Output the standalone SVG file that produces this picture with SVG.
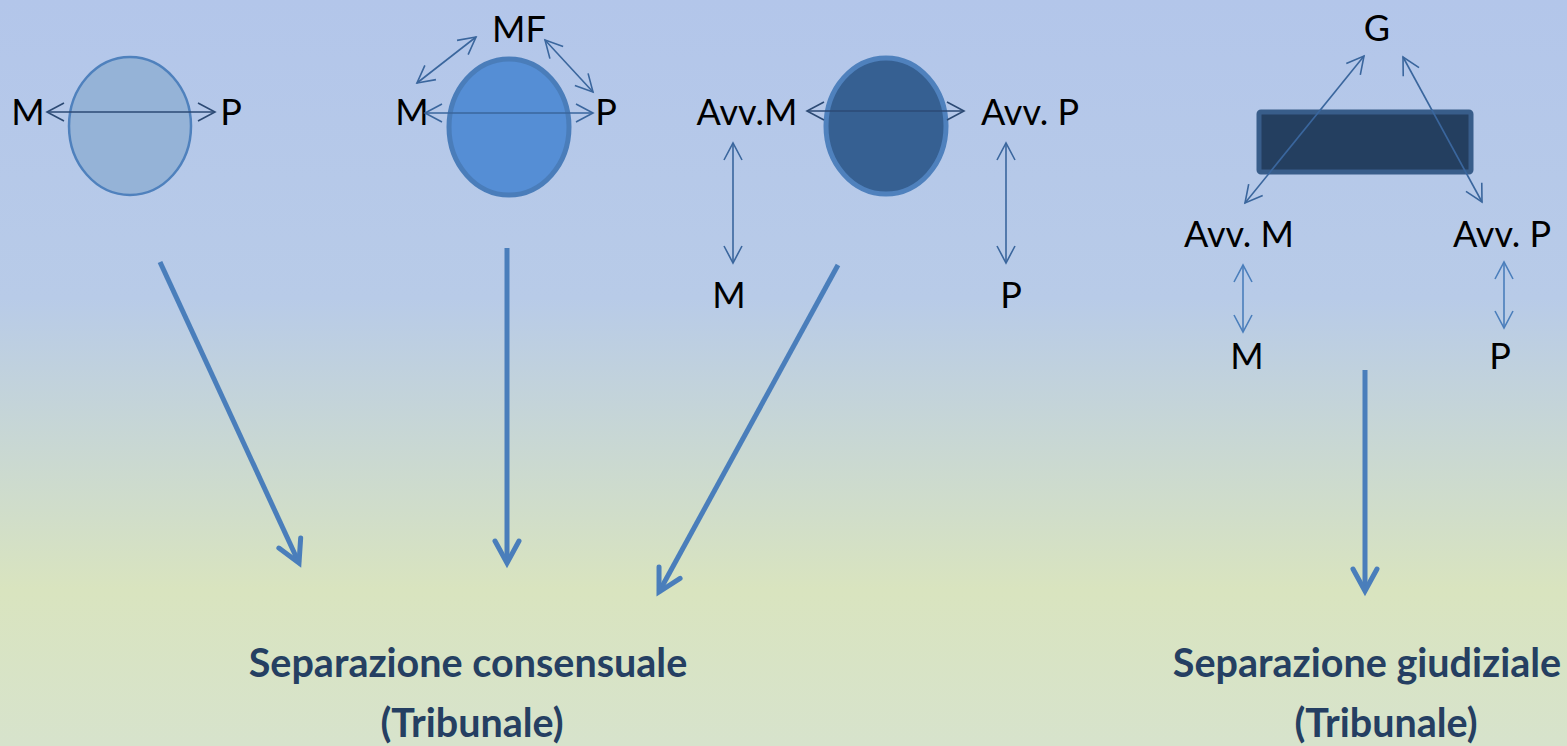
<svg xmlns="http://www.w3.org/2000/svg" width="1567" height="746" viewBox="0 0 1567 746">
  <defs>
    <linearGradient id="bg" x1="0" y1="0" x2="0" y2="1">
      <stop offset="0" stop-color="#b3c6ea"/>
      <stop offset="0.4" stop-color="#b8cbe8"/>
      <stop offset="0.79" stop-color="#d9e4bf"/>
      <stop offset="1" stop-color="#d7e3cc"/>
    </linearGradient>
    <marker id="hd" markerUnits="userSpaceOnUse" markerWidth="40" markerHeight="40" viewBox="-20 -20 40 40" refX="0" refY="0" orient="auto-start-reverse">
      <path d="M-17,-9 L0,0 L-17,9" fill="none" stroke="#2c4a74" stroke-width="1.6"/>
    </marker>
    <marker id="hm" markerUnits="userSpaceOnUse" markerWidth="40" markerHeight="40" viewBox="-20 -20 40 40" refX="0" refY="0" orient="auto-start-reverse">
      <path d="M-17,-9 L0,0 L-17,9" fill="none" stroke="#3a669d" stroke-width="1.6"/>
    </marker>
    <marker id="hl" markerUnits="userSpaceOnUse" markerWidth="40" markerHeight="40" viewBox="-20 -20 40 40" refX="0" refY="0" orient="auto-start-reverse">
      <path d="M-17,-9 L0,0 L-17,9" fill="none" stroke="#4a7ebb" stroke-width="1.6"/>
    </marker>
    <marker id="big" markerUnits="userSpaceOnUse" markerWidth="60" markerHeight="60" viewBox="-30 -30 60 60" refX="0" refY="0" orient="auto">
      <path d="M-22,-12 L0,0 L-22,12" fill="none" stroke="#4a7ebb" stroke-width="5" stroke-linecap="round" stroke-linejoin="miter"/>
    </marker>
  </defs>
  <style>
    .lbl { font-family: Lato, "Liberation Sans", sans-serif; font-size: 36px; fill: #000; text-anchor: middle; }
    .ttl { font-family: Lato, "Liberation Sans", sans-serif; font-size: 39.5px; font-weight: bold; fill: #253f62; text-anchor: middle; }
    .dark { stroke: #2c4a74; stroke-width: 1.6; fill: none; marker-start: url(#hd); marker-end: url(#hd); }
    .mid { stroke: #3a669d; stroke-width: 1.6; fill: none; marker-start: url(#hm); marker-end: url(#hm); }
    .light { stroke: #4a7ebb; stroke-width: 1.6; fill: none; marker-start: url(#hl); marker-end: url(#hl); }
    .bigarrow { stroke: #4a7ebb; stroke-width: 5; fill: none; marker-end: url(#big); }
  </style>
  <rect x="0" y="0" width="1567" height="746" fill="url(#bg)"/>

  <g id="node-ellipse1">
    <ellipse cx="130" cy="126" rx="61" ry="69" fill="#95b3d7" stroke="#4f81bd" stroke-width="2.5"/>
  </g>
  <g id="node-ellipse2">
    <ellipse cx="509" cy="127" rx="60" ry="68" fill="#558ed5" stroke="#4a7dba" stroke-width="5"/>
  </g>
  <g id="node-ellipse3">
    <ellipse cx="886" cy="126" rx="60" ry="68" fill="#366092" stroke="#4f81bd" stroke-width="5"/>
  </g>
  <g id="node-rect">
    <rect x="1259" y="112" width="212" height="60" rx="2" fill="#243f60" stroke="#385d8a" stroke-width="5"/>
  </g>

  <g id="node-g1-M"><text class="lbl" x="28" y="125">M</text></g>
  <g id="node-g1-P"><text class="lbl" x="231" y="125">P</text></g>

  <g id="node-g2-MF"><text class="lbl" x="519" y="42">MF</text></g>
  <g id="node-g2-M"><text class="lbl" x="412" y="125">M</text></g>
  <g id="node-g2-P"><text class="lbl" x="606" y="125">P</text></g>

  <g id="node-g3-AvvM"><text class="lbl" x="747" y="125">Avv.M</text></g>
  <g id="node-g3-AvvP"><text class="lbl" x="1030" y="125">Avv. P</text></g>
  <g id="node-g3-M"><text class="lbl" x="729" y="308">M</text></g>
  <g id="node-g3-P"><text class="lbl" x="1011" y="308">P</text></g>

  <g id="node-g4-G"><text class="lbl" x="1377" y="41">G</text></g>
  <g id="node-g4-AvvM"><text class="lbl" x="1239" y="247">Avv. M</text></g>
  <g id="node-g4-AvvP"><text class="lbl" x="1502" y="247">Avv. P</text></g>
  <g id="node-g4-M"><text class="lbl" x="1247" y="369">M</text></g>
  <g id="node-g4-P"><text class="lbl" x="1500" y="369">P</text></g>

  <g id="node-consensuale">
    <text class="ttl" x="468" y="677">Separazione consensuale</text>
    <text class="ttl" x="472" y="737">(Tribunale)</text>
  </g>
  <g id="node-giudiziale">
    <text class="ttl" x="1367" y="677">Separazione giudiziale</text>
    <text class="ttl" x="1386" y="737">(Tribunale)</text>
  </g>

  <g id="connectors">
    <line class="dark" x1="47" y1="112" x2="215" y2="112"/>
    <line class="mid" x1="425" y1="113" x2="593" y2="113"/>
    <line class="mid" x1="417" y1="83" x2="476" y2="37"/>
    <line class="mid" x1="545" y1="40" x2="593" y2="92"/>
    <line class="dark" x1="807" y1="111" x2="964" y2="111"/>
    <line class="mid" x1="733" y1="143" x2="733" y2="263"/>
    <line class="mid" x1="1006" y1="143" x2="1006" y2="263"/>
    <line class="mid" x1="1245" y1="203" x2="1364" y2="56"/>
    <line class="mid" x1="1403" y1="57" x2="1482" y2="202"/>
    <line class="light" x1="1243" y1="265" x2="1243" y2="332"/>
    <line class="light" x1="1504" y1="262" x2="1504" y2="328"/>

    <line class="bigarrow" x1="160" y1="262" x2="299" y2="563"/>
    <line class="bigarrow" x1="507" y1="248" x2="507" y2="563"/>
    <line class="bigarrow" x1="838" y1="265" x2="659" y2="592"/>
    <line class="bigarrow" x1="1365" y1="370" x2="1365" y2="591"/>
  </g>
</svg>
